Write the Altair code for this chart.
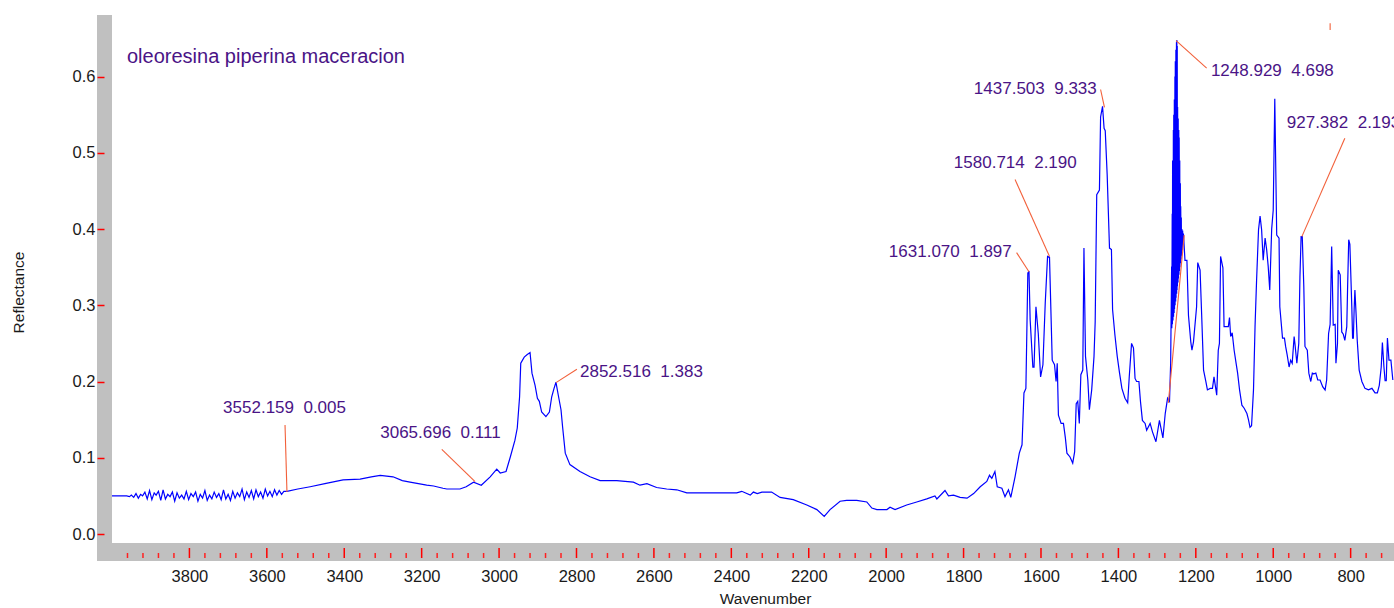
import altair as alt
import pandas as pd

# ---- spectrum: wavenumber (cm-1) and reflectance ----
flat_wn = [4000, 3990, 3975, 3962]
flat_r = [0.050, 0.050, 0.050, 0.050]

# noisy high-wavenumber region
noise_wn = [
    3955, 3950, 3944, 3938, 3932, 3926, 3921, 3915, 3909, 3903,
    3897, 3891, 3886, 3880, 3874, 3868, 3862, 3856, 3850, 3844,
    3838, 3832, 3826, 3820, 3814, 3808, 3802, 3796, 3790, 3784,
    3778, 3772, 3766, 3760, 3754, 3748, 3742, 3736, 3730, 3724,
    3718, 3712, 3706, 3700, 3694, 3688, 3682, 3676, 3670, 3664,
    3658, 3652, 3646, 3640, 3634, 3628, 3622, 3616, 3610, 3604,
    3598, 3592, 3586, 3580, 3574, 3568, 3562, 3556,
]
noise_r = [
    0.049, 0.051, 0.048, 0.053, 0.047, 0.052, 0.050, 0.055, 0.046, 0.057,
    0.045, 0.054, 0.051, 0.056, 0.044, 0.058, 0.046, 0.052, 0.049, 0.055,
    0.043, 0.054, 0.047, 0.051, 0.046, 0.056, 0.045, 0.053, 0.049, 0.055,
    0.043, 0.052, 0.047, 0.057, 0.044, 0.051, 0.046, 0.055, 0.048, 0.053,
    0.045, 0.058, 0.046, 0.052, 0.044, 0.056, 0.047, 0.054, 0.049, 0.059,
    0.045, 0.055, 0.048, 0.057, 0.046, 0.058, 0.049, 0.055, 0.047, 0.059,
    0.050, 0.056, 0.049, 0.058, 0.051, 0.057, 0.052, 0.056,
]

main_wn = [
    3548, 3520, 3488, 3450, 3403, 3359, 3330, 3307, 3274, 3250, 3230, 3187,
    3169, 3145, 3135, 3101, 3085, 3066, 3046, 3023, 3006, 2997, 2982, 2971,
    2959, 2953, 2947, 2944, 2935, 2928, 2920, 2915, 2907, 2901, 2896, 2890,
    2879, 2870, 2864, 2858, 2853, 2847, 2840, 2836, 2829, 2817, 2791, 2765,
    2739, 2696, 2653, 2636, 2618, 2593, 2567, 2541, 2515, 2386, 2373, 2351,
    2343, 2333, 2321, 2296, 2274, 2240, 2205, 2179, 2160, 2145, 2119, 2102,
    2076, 2050, 2037, 2024, 1998, 1990, 1977, 1947, 1921, 1895, 1874, 1869,
    1848, 1839, 1826, 1809, 1791, 1774, 1757, 1740, 1733, 1727, 1719, 1713,
    1701, 1693, 1684, 1678, 1667, 1656, 1649, 1644, 1639, 1634, 1631, 1628,
    1621, 1618, 1613, 1607, 1601, 1595, 1589, 1583, 1578, 1571, 1565, 1561,
    1558, 1555, 1548, 1542, 1537, 1533, 1525, 1518, 1513, 1509, 1505, 1501,
    1497, 1492, 1489, 1485, 1479, 1475, 1469, 1463, 1460, 1456, 1449, 1446,
    1441, 1437, 1434, 1429, 1423, 1418, 1415, 1409, 1403, 1397, 1391, 1383,
    1376, 1372, 1366, 1361, 1357, 1353, 1347, 1343, 1338, 1331, 1327, 1318,
    1312, 1303, 1294, 1285, 1279, 1273, 1268, 1265,
]
main_r = [
    0.056, 0.059, 0.062, 0.066, 0.071, 0.072, 0.075, 0.077, 0.075, 0.070, 0.068, 0.064,
    0.063, 0.060, 0.059, 0.059, 0.062, 0.068, 0.064, 0.075, 0.085, 0.080, 0.082, 0.101,
    0.123, 0.139, 0.180, 0.224, 0.232, 0.235, 0.238, 0.211, 0.195, 0.178, 0.174, 0.160,
    0.154, 0.160, 0.180, 0.191, 0.199, 0.182, 0.163, 0.141, 0.106, 0.091, 0.082, 0.075,
    0.070, 0.070, 0.068, 0.064, 0.066, 0.061, 0.059, 0.058, 0.054, 0.054, 0.056, 0.051,
    0.055, 0.053, 0.055, 0.055, 0.048, 0.045, 0.038, 0.032, 0.023, 0.032, 0.043, 0.044,
    0.044, 0.042, 0.034, 0.032, 0.032, 0.035, 0.032, 0.038, 0.042, 0.046, 0.050, 0.046,
    0.057, 0.050, 0.051, 0.048, 0.047, 0.053, 0.062, 0.069, 0.077, 0.073, 0.082, 0.062,
    0.060, 0.049, 0.058, 0.048, 0.075, 0.106, 0.117, 0.185, 0.191, 0.342, 0.345, 0.281,
    0.219, 0.219, 0.298, 0.263, 0.206, 0.222, 0.303, 0.364, 0.363, 0.228, 0.222, 0.200,
    0.224, 0.156, 0.145, 0.145, 0.126, 0.106, 0.101, 0.093, 0.108, 0.171, 0.174, 0.145,
    0.209, 0.215, 0.375, 0.233, 0.202, 0.163, 0.189, 0.233, 0.278, 0.445, 0.451, 0.547,
    0.561, 0.532, 0.529, 0.471, 0.375, 0.373, 0.294, 0.261, 0.233, 0.211, 0.191, 0.178,
    0.172, 0.206, 0.250, 0.244, 0.204, 0.200, 0.200, 0.174, 0.149, 0.145, 0.136, 0.145,
    0.134, 0.121, 0.149, 0.126, 0.158, 0.178, 0.174, 0.224,
]

# densely oscillating band around the strongest peak
band_wn = [
    1262.5, 1262, 1261, 1260.5, 1260, 1259, 1258, 1257.5, 1257, 1256, 1255.5,
    1255, 1254, 1253.5, 1253, 1252, 1251.5, 1251, 1250, 1249.5, 1249, 1248.5,
    1248, 1247.5, 1247, 1246, 1245.5, 1245, 1244, 1243.5, 1243, 1242, 1241.5,
    1241, 1240, 1239.5, 1239, 1238, 1237.5, 1237, 1236, 1235, 1234, 1233, 1232,
]
band_r = [
    0.351, 0.270, 0.420, 0.275, 0.490, 0.280, 0.530, 0.285, 0.550, 0.290, 0.570,
    0.295, 0.600, 0.300, 0.620, 0.305, 0.635, 0.310, 0.645, 0.315, 0.648, 0.320,
    0.640, 0.325, 0.560, 0.330, 0.545, 0.335, 0.530, 0.340, 0.520, 0.345, 0.490,
    0.350, 0.460, 0.355, 0.430, 0.360, 0.415, 0.365, 0.400, 0.372, 0.398, 0.380, 0.394,
]

tail_wn = [
    1228, 1223, 1219, 1213, 1210, 1206, 1198, 1195, 1189, 1185, 1180, 1174,
    1170, 1163, 1157, 1153, 1146, 1142, 1139, 1136, 1130, 1127, 1116, 1113,
    1110, 1106, 1101, 1096, 1092, 1087, 1081, 1075, 1068, 1064, 1060, 1056,
    1051, 1047, 1043, 1038, 1034, 1030, 1026, 1021, 1017, 1013, 1009, 1004,
    1000, 996, 991, 985, 983, 976, 971, 968, 964, 959, 955, 951, 946, 944,
    939, 934, 931, 928, 925, 921, 918, 912, 908, 903, 899, 895, 890, 885,
    879, 872, 866, 862, 857, 853, 849, 845, 840, 838, 834, 832, 827, 823,
    819, 815, 810, 808, 805, 802, 797, 795, 793, 791, 789, 786, 783, 778,
    771, 763, 754, 745, 737, 731, 726, 721, 718, 714, 711, 708, 705, 701,
    696, 691,
]
tail_r = [
    0.359, 0.359, 0.287, 0.252, 0.241, 0.252, 0.298, 0.356, 0.346, 0.289, 0.215, 0.200,
    0.189, 0.191, 0.191, 0.206, 0.182, 0.241, 0.250, 0.364, 0.349, 0.272, 0.272, 0.284,
    0.259, 0.264, 0.241, 0.224, 0.211, 0.189, 0.169, 0.165, 0.158, 0.150, 0.140, 0.142,
    0.189, 0.272, 0.333, 0.399, 0.417, 0.399, 0.359, 0.388, 0.373, 0.351, 0.320, 0.400,
    0.425, 0.571, 0.392, 0.388, 0.298, 0.257, 0.257, 0.246, 0.235, 0.219, 0.228, 0.224, 0.259, 0.250,
    0.224, 0.250, 0.337, 0.390, 0.390, 0.324, 0.246, 0.241, 0.211, 0.200, 0.211, 0.210, 0.211, 0.202,
    0.202, 0.193, 0.189, 0.202, 0.263, 0.275, 0.377, 0.274, 0.275, 0.224, 0.250, 0.346, 0.340, 0.265,
    0.262, 0.254, 0.272, 0.320, 0.386, 0.380, 0.298, 0.257, 0.257, 0.294, 0.320, 0.289, 0.254, 0.215,
    0.200, 0.191, 0.189, 0.191, 0.185, 0.185, 0.195, 0.219, 0.251, 0.219, 0.201, 0.201, 0.257, 0.228,
    0.228, 0.202,
]

wavenumber = flat_wn + noise_wn + main_wn + band_wn + tail_wn
reflectance = flat_r + noise_r + main_r + band_r + tail_r
assert len(wavenumber) == len(reflectance)

# ---- peak annotations ----
NB = "\u00a0\u00a0"
left_labels = ["3552.159" + NB + "0.005", "3065.696" + NB + "0.111",
               "2852.516" + NB + "1.383", "1248.929" + NB + "4.698",
               "927.382" + NB + "2.193"]
left_label_wn = [3713, 3307, 2791, 1161, 965]
left_label_r = [0.165, 0.1325, 0.2125, 0.6076, 0.5394]

right_labels = ["1631.070" + NB + "1.897", "1580.714" + NB + "2.190",
                "1437.503" + NB + "9.333"]
right_label_wn = [1675.5, 1507.6, 1455.9]
right_label_r = [0.3694, 0.4862, 0.5832]

# leader lines from label to peak
leader_wn1 = [3553, 3148, 2853, 1663, 1667, 1446, 1251, 815, 1271, 853]
leader_r1 = [0.143, 0.111, 0.1985, 0.369, 0.465, 0.583, 0.647, 0.519, 0.172, 0.670]
leader_wn2 = [3548, 3062, 2799, 1631, 1578, 1436, 1172, 926, 1230, 853]
leader_r2 = [0.055, 0.0686, 0.216, 0.344, 0.364, 0.5596, 0.611, 0.390, 0.392, 0.661]

# axis ticks
major_ticks = list(range(3800, 799, -200))
minor_ticks = [w for w in range(3960, 719, -40) if w % 200 != 0]
y_ticks = [0.0, 0.1, 0.2, 0.3, 0.4, 0.5, 0.6]

TITLE = "oleoresina piperina maceracion"

FONT = "Liberation Sans"
PURPLE = "#4a1486"
LEADER = "#f2603a"
GRAY = "#c0c0c0"
W, H = 1282, 528

spec_df = pd.DataFrame({"wn": wavenumber, "r": reflectance,
                        "i": list(range(len(wavenumber)))})
left_df = pd.DataFrame({"wn": left_label_wn, "r": left_label_r, "label": left_labels})
right_df = pd.DataFrame({"wn": right_label_wn, "r": right_label_r, "label": right_labels})
lead_df = pd.DataFrame({"wn": leader_wn1, "r": leader_r1,
                        "wn2": leader_wn2, "r2": leader_r2})
major_df = pd.DataFrame({"wn": major_ticks})
minor_df = pd.DataFrame({"wn": minor_ticks})
one = pd.DataFrame({"k": [0]})

xscale = alt.Scale(domain=[688, 4000], reverse=True, nice=False, zero=False)
yscale = alt.Scale(domain=[-0.0118, 0.6807], nice=False, zero=False)

xaxis = alt.Axis(values=major_ticks, format="d", domain=False, ticks=False,
                 grid=False, labelFont=FONT, labelFontSize=16.5,
                 labelColor="#1a1a1a", labelPadding=25, title="Wavenumber",
                 titleFont=FONT, titleFontSize=15.5, titleFontWeight="normal",
                 titleColor="#1a1a1a", titleX=653, titleY=55,
                 titleBaseline="middle", titleAlign="center", zindex=1)
yaxis = alt.Axis(values=y_ticks, format=".1f", domain=False, ticks=True,
                 tickColor="#ff0000", tickSize=7, tickWidth=1.5, offset=8,
                 grid=False, labelFont=FONT, labelFontSize=16.5,
                 labelColor="#1a1a1a", labelPadding=2, title="Reflectance",
                 titleFont=FONT, titleFontSize=15.5, titleFontWeight="normal",
                 titleColor="#1a1a1a", titleX=-86, titleY=277,
                 titleBaseline="middle", titleAlign="center", titleAngle=270,
                 zindex=1)

X = alt.X("wn:Q", scale=xscale, axis=xaxis)
Y = alt.Y("r:Q", scale=yscale, axis=yaxis)

left_bar = alt.Chart(one).mark_rect(color=GRAY).encode(
    x=alt.value(-15), x2=alt.value(0), y=alt.value(0), y2=alt.value(546))
bottom_bar = alt.Chart(one).mark_rect(color=GRAY).encode(
    x=alt.value(-15), x2=alt.value(W), y=alt.value(H), y2=alt.value(546))

spectrum = alt.Chart(spec_df).mark_line(color="#0000ff", strokeWidth=1.2,
                                        clip=True).encode(x=X, y=Y, order="i:Q")

leaders = alt.Chart(lead_df).mark_rule(color=LEADER, strokeWidth=1.1).encode(
    x=X, y=Y, x2="wn2:Q", y2="r2:Q")

major = alt.Chart(major_df).mark_rule(color="#ff0000", strokeWidth=1.5).encode(
    x=X, y=alt.value(H + 5), y2=alt.value(H + 15))
minor = alt.Chart(minor_df).mark_rule(color="#ff2020", strokeWidth=1.5).encode(
    x=X, y=alt.value(H + 10), y2=alt.value(H + 15))

left_text = alt.Chart(left_df).mark_text(
    align="left", baseline="middle", font=FONT, fontSize=17, color=PURPLE
).encode(x=X, y=Y, text="label:N")
right_text = alt.Chart(right_df).mark_text(
    align="right", baseline="middle", font=FONT, fontSize=17, color=PURPLE
).encode(x=X, y=Y, text="label:N")

title = alt.Chart(one).mark_text(
    align="left", baseline="middle", font=FONT, fontSize=20, color=PURPLE
).encode(x=alt.value(15), y=alt.value(42), text=alt.value(TITLE))

chart = alt.layer(
    left_bar, bottom_bar, spectrum, leaders, major, minor,
    left_text, right_text, title
).properties(
    width=W, height=H,
    autosize=alt.AutoSizeParams(type="none"),
    padding={"left": 112, "top": 15, "right": 0, "bottom": 65},
    background="white",
).configure_view(stroke=None)

chart.save("out.html", embed_options={"renderer": "svg", "actions": False})
